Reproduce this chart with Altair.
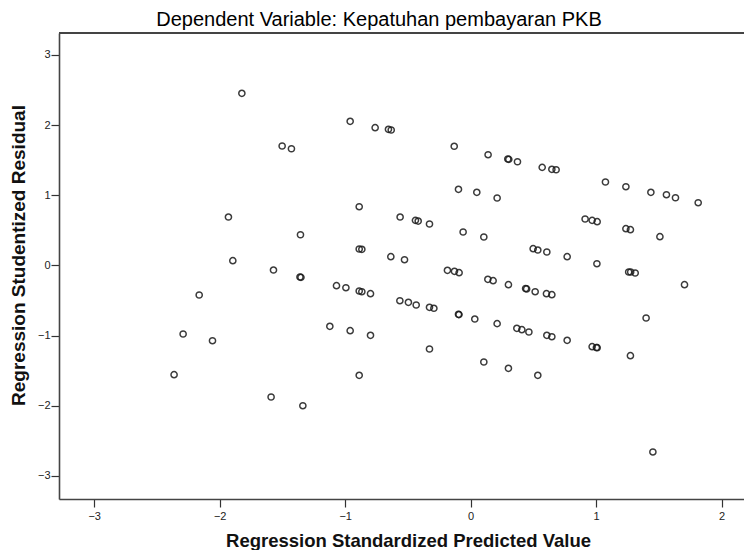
import altair as alt
import pandas as pd

# Regression Standardized Predicted Value (x) and Studentized Residual (y)
pred = [
    -1.823, -0.960, -0.761, -0.655, -0.633, -1.502, -1.428, -0.888, -0.562, -1.930,
    -1.356, -0.888, -0.867, -0.636, -0.527, -1.895, -1.571, -0.131, 0.139, 0.296,
    0.304, 0.373, 0.570, 0.647, 0.681, 1.074, 1.237, 1.436, 1.560, 1.632,
    1.813, -0.097, 0.049, 0.211, -0.440, -0.418, -0.328, 0.912, 0.968, 1.008,
    1.237, 1.273, 1.508, -0.060, 0.105, 0.498, 0.535, 0.607, 0.769, 1.006,
    1.259, 1.275, 1.311, -1.360, -1.352, -1.069, -0.994, -0.888, -0.867, -0.798,
    -0.564, -0.496, -2.163, -2.291, -2.057, -1.122, -0.960, -0.798, -2.363, -0.888,
    -1.590, -1.337, -0.185, -0.129, -0.092, 0.137, 0.179, 0.301, 0.438, 0.446,
    0.514, 0.604, 0.647, 1.704, -0.434, -0.328, -0.293, -0.097, -0.093, 0.033,
    0.211, 0.368, 0.408, 0.464, 0.607, 0.647, 0.769, 0.968, 1.008, 1.002,
    1.273, 1.398, -0.328, 0.105, 0.301, 0.535, 1.452,
]
resid = [
    2.452, 2.053, 1.962, 1.939, 1.929, 1.701, 1.662, 0.836, 0.689, 0.689,
    0.437, 0.234, 0.229, 0.124, 0.081, 0.067, -0.066, 1.697, 1.577, 1.516,
    1.511, 1.477, 1.397, 1.369, 1.363, 1.188, 1.121, 1.041, 1.007, 0.964,
    0.893, 1.084, 1.041, 0.960, 0.642, 0.632, 0.590, 0.661, 0.642, 0.623,
    0.523, 0.509, 0.409, 0.476, 0.405, 0.238, 0.219, 0.191, 0.124, 0.024,
    -0.094, -0.094, -0.108, -0.165, -0.170, -0.289, -0.318, -0.365, -0.375, -0.403,
    -0.503, -0.526, -0.422, -0.977, -1.073, -0.868, -0.930, -0.996, -1.557, -1.566,
    -1.875, -1.999, -0.070, -0.084, -0.104, -0.198, -0.218, -0.275, -0.329, -0.335,
    -0.375, -0.403, -0.417, -0.275, -0.564, -0.597, -0.611, -0.697, -0.701, -0.764,
    -0.830, -0.896, -0.916, -0.949, -0.996, -1.016, -1.067, -1.158, -1.172, -1.170,
    -1.286, -0.749, -1.191, -1.376, -1.466, -1.566, -2.658,
]
x_ticks = [-3, -2, -1, 0, 1, 2]
y_ticks = [-3, -2, -1, 0, 1, 2, 3]
chart_title = ["Dependent Variable: Kepatuhan pembayaran PKB"]

df = pd.DataFrame({"x": pred, "y": resid})
title_df = pd.DataFrame({"t": chart_title})

W, H = 685, 466
FONT = "Liberation Sans"
FRAME = "#444"

xscale = alt.Scale(domain=[-3.28, 2.178], nice=False, zero=False)
yscale = alt.Scale(domain=[-3.328, 3.311], nice=False, zero=False)

points = alt.Chart(df).mark_point(
    shape="circle", filled=False, size=38, stroke="#1a1a1a", strokeWidth=1.5, opacity=0.85
).encode(
    x=alt.X(
        "x:Q", scale=xscale,
        axis=alt.Axis(
            values=x_ticks, title="Regression Standardized Predicted Value",
            grid=False, domain=True, domainColor=FRAME, domainWidth=1.6,
            tickSize=8, tickColor="#333", tickWidth=1.2,
            labelPadding=3, labelFontSize=11, labelFont=FONT, labelColor="#222",
            titleFont=FONT, titleFontSize=18.5, titleFontWeight="bold", titleColor="#111",
            titleBaseline="alphabetic", titleAlign="center", titleX=349, titleY=47,
        ),
    ),
    y=alt.Y(
        "y:Q", scale=yscale,
        axis=alt.Axis(
            values=y_ticks, title="Regression Studentized Residual",
            grid=False, domain=True, domainColor=FRAME, domainWidth=1.6,
            tickSize=8, tickColor="#333", tickWidth=1.2,
            labelPadding=1, labelFontSize=11, labelFont=FONT, labelColor="#222",
            titleFont=FONT, titleFontSize=19, titleFontWeight="bold", titleColor="#111",
            titleAngle=270, titleBaseline="alphabetic", titleAlign="center",
            titleX=-35, titleY=222,
        ),
    ),
)

top_line = alt.Chart(df).mark_rule(color=FRAME, strokeWidth=1.6).encode(
    x=alt.value(0), x2=alt.value(W), y=alt.value(0)
)

title_text = alt.Chart(title_df).mark_text(
    font=FONT, fontSize=20, color="#000", align="center", baseline="alphabetic"
).encode(
    text="t:N", x=alt.value(320), y=alt.value(-7)
)

chart = alt.layer(top_line, points, title_text).properties(
    width=W, height=H,
    autosize=alt.AutoSizeParams(type="none"),
    padding={"left": 51, "top": 25, "right": 0, "bottom": 51},
).configure_view(
    fill="#f0f0f0", stroke=None
).configure(background="white")

chart.save("out.html", embed_options={"renderer": "svg", "actions": False})
